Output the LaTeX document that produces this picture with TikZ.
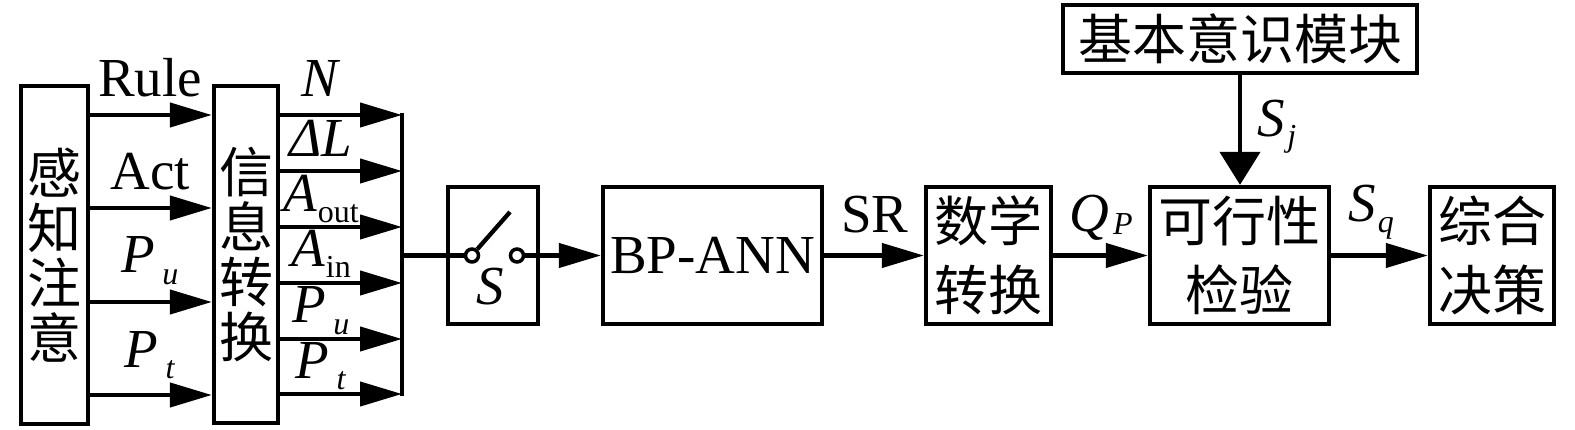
\documentclass[tikz,border=0pt]{standalone}
\usepackage{fontspec}
\setmainfont{Liberation Serif}
\newfontfamily\cjk{Noto Sans CJK SC}
\usetikzlibrary{arrows.meta}
\newcommand\lsub[4][1pt]{#2\kern#1\raisebox{-#4}{\fontsize{32}{32}\selectfont #3}}
\begin{document}
\begin{tikzpicture}[x=1pt,y=-1pt,line width=4.3pt,
  box/.style={draw,line width=4.3pt,inner sep=0pt,align=center,font=\cjk\fontsize{54}{55}\selectfont},
  hbox/.style={box,font=\cjk\fontsize{54}{69}\selectfont,minimum height=137pt},
  lab/.style={anchor=base,inner sep=0pt,font=\fontsize{55}{55}\selectfont},
  arr/.style={-{Triangle[length=42pt,width=24pt]}},
  darr/.style={-{Triangle[length=33pt,width=40pt]}},
  sw/.style={circle,draw,line width=3.5pt,minimum size=13pt,inner sep=0pt,fill=white}]
\useasboundingbox[fill=white] (0,0) rectangle (1575,430);

% left boxes
\node[box,minimum width=67pt,minimum height=338pt] (pa) at (54.5,255) {感\\知\\注\\意};
\node[box,minimum width=64pt,minimum height=337pt] (it) at (246,254.5) {信\\息\\转\\换};

% inputs
\draw[arr] (pa.east |- 0,115) -- (it.west |- 0,115);
\draw[arr] (pa.east |- 0,208) -- (it.west |- 0,208);
\draw[arr] (pa.east |- 0,302) -- (it.west |- 0,302);
\draw[arr] (pa.east |- 0,395) -- (it.west |- 0,395);
\node[lab] (lrule) at (150,97) {Rule};
\node[lab] (lact) at (150,190) {Act};
\node[lab] (lpu) at (150,273) {\lsub[7pt]{\textit{P}}{\textit{u}}{12pt}};
\node[lab] (lpt) at (150,367) {\lsub[7pt]{\textit{P}}{\textit{t}}{11pt}};

% outputs to bar
\coordinate (o1) at (402,115);
\coordinate (o2) at (402,171);
\coordinate (o3) at (402,227);
\coordinate (o4) at (402,283);
\coordinate (o5) at (402,339);
\coordinate (o6) at (402,394);
\coordinate (bt) at (402,113);
\coordinate (bb) at (402,396);
\draw (bt) -- (bb);
\foreach \c in {o1,o2,o3,o4,o5,o6}{\draw[arr] (it.east |- \c) -- (\c);}
\node[lab] (ln) at (321,97) {\textit{N}};
\node[lab] (ldl) at (321,157) {\textit{ΔL}};
\node[lab] (lao) at (321,212) {\lsub{\textit{A}}{out}{11pt}};
\node[lab] (lai) at (321,267) {\lsub{\textit{A}}{in}{11pt}};
\node[lab] (lpu2) at (321,323) {\lsub[7pt]{\textit{P}}{\textit{u}}{12pt}};
\node[lab] (lpt2) at (321,378) {\lsub[7pt]{\textit{P}}{\textit{t}}{11pt}};

% switch
\node[draw,inner sep=0pt,minimum width=90pt,minimum height=137pt] (swb) at (493,255.5) {};
\coordinate (bj) at (402,255.5);
\node[sw] (c1) at (472,255.5) {};
\node[sw] (c2) at (517,255.5) {};
\coordinate (lev) at (510,212);
\draw (bj) -- (c1.west);
\draw (c1.50) -- (lev);
\node[lab] (ls) at (490,305) {\textit{S}};

% main chain
\node[box,font=\fontsize{55}{55}\selectfont,minimum width=219pt,minimum height=137pt] (bp) at (712.5,255.5) {BP-ANN};
\node[hbox,minimum width=125pt] (dt) at (988.5,255.5) {数学\\转换};
\node[hbox,minimum width=179pt] (ft) at (1239.5,255.5) {可行性\\检验};
\node[hbox,minimum width=124pt] (zd) at (1492,255.5) {综合\\决策};
\node[box,minimum width=354pt,minimum height=68pt] (bm) at (1240,39) {基本意识模块};

\draw[arr] (c2.east) -- (bp.west);
\draw[arr] (bp.east) -- (dt.west);
\draw[arr] (dt.east) -- (ft.west);
\draw[arr] (ft.east) -- (zd.west);
\draw[darr] (bm.south) -- (bm.south |- ft.north);

\node[lab] (lsr) at (875,233) {SR};
\node[lab] (lqp) at (1101,232) {\lsub[4pt]{\textit{Q}}{\textit{P}}{3pt}};
\node[lab] (lsq) at (1371,222) {\lsub[2pt]{\textit{S}}{\textit{q}}{11pt}};
\node[lab] (lsj) at (1277,137) {\lsub[2pt]{\textit{S}}{\textit{j}}{10pt}};
\end{tikzpicture}
\end{document}
